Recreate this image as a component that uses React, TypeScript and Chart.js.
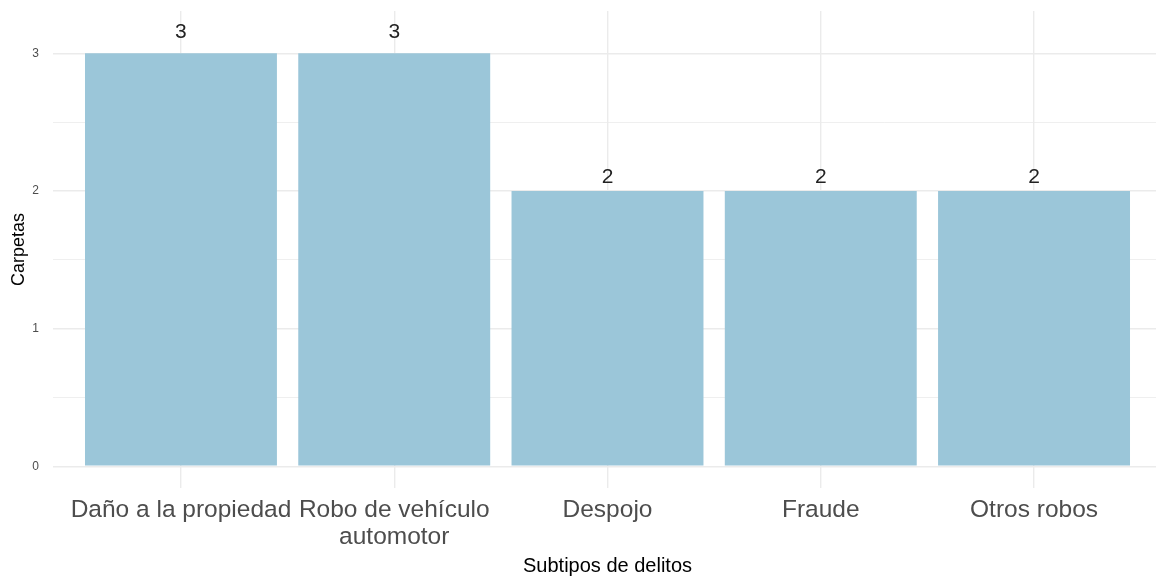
import React, { useEffect, useRef } from "react";
import { Chart, registerables } from "chart.js";

Chart.register(...registerables);

const categories = [
  "Daño a la propiedad",
  "Robo de vehículo\nautomotor",
  "Despojo",
  "Fraude",
  "Otros robos",
];
const carpetas = [3, 3, 2, 2, 2];
const yTickValues = [0, 1, 2, 3];
const yMinorValues = [0.5, 1.5, 2.5];
const xTitle = "Subtipos de delitos";
const yTitle = "Carpetas";

const FONT = "'Liberation Sans', Arial, sans-serif";

const labelPlugin = {
  id: "barLabels",
  afterDatasetsDraw(chart: any) {
    const ctx = chart.ctx;
    const meta = chart.getDatasetMeta(0);
    const yScale = chart.scales.y;
    ctx.save();
    ctx.font = `21px ${FONT}`;
    ctx.fillStyle = "#222222";
    ctx.textAlign = "center";
    ctx.textBaseline = "middle";
    meta.data.forEach((bar: any, i: number) => {
      const v = carpetas[i];
      ctx.fillText(String(v), bar.x, yScale.getPixelForValue(v * 1.05));
    });
    ctx.restore();
  },
};

export default function App() {
  const ref = useRef<HTMLCanvasElement | null>(null);

  useEffect(() => {
    document.body.style.margin = "0";
    const canvas = ref.current!;
    const maxY = Math.max(...carpetas) * 1.05;
    const chart = new Chart(canvas, {
      type: "bar",
      data: {
        datasets: [
          {
            data: carpetas.map((v, i) => ({ x: i + 1, y: v })),
            backgroundColor: "#9BC6D9",
            borderWidth: 0,
            barPercentage: 0.9,
            categoryPercentage: 1,
          },
        ],
      },
      options: {
        responsive: false,
        animation: false,
        maintainAspectRatio: false,
        layout: { padding: { top: 11, left: 0, right: 0, bottom: 0 } },
        plugins: {
          legend: { display: false },
          tooltip: { enabled: false },
        },
        scales: {
          x: {
            type: "linear",
            offset: false,
            min: 0.4,
            max: categories.length + 0.6,
            afterBuildTicks: (scale: any) => {
              scale.ticks = categories.map((_, i) => ({ value: i + 1 }));
            },
            afterFit: (scale: any) => {
              scale.height = 91;
            },
            ticks: {
              autoSkip: false,
              maxRotation: 0,
              minRotation: 0,
              padding: 9,
              color: "#4D4D4D",
              font: { family: FONT, size: 24.5, lineHeight: 1.1 },
              callback: (value: any) => {
                const c = categories[Number(value) - 1];
                return c ? c.split("\n") : "";
              },
            },
            grid: {
              color: "#EBEBEB",
              lineWidth: 1.4,
              drawTicks: false,
              offset: false,
            },
            border: { display: false },
            title: {
              display: true,
              text: xTitle,
              color: "#000000",
              font: { family: FONT, size: 20, lineHeight: 1.2 },
              padding: { top: 0, bottom: 1 },
            },
          },
          y: {
            type: "linear",
            min: -maxY * 0.05,
            max: maxY * 1.05,
            afterBuildTicks: (scale: any) => {
              const all = [...yTickValues, ...yMinorValues].sort((a, b) => a - b);
              scale.ticks = all.map((v) => ({ value: v }));
            },
            afterFit: (scale: any) => {
              scale.width = 53;
              scale.paddingTop = 0;
              scale.paddingBottom = 0;
            },
            ticks: {
              autoSkip: false,
              padding: 14,
              color: "#4D4D4D",
              font: { family: FONT, size: 12 },
              callback: (value: any) =>
                yTickValues.includes(Number(value)) ? String(value) : "",
            },
            grid: {
              color: "#EBEBEB",
              lineWidth: (ctx: any) =>
                yTickValues.includes(ctx.tick?.value) ? 1.4 : 0.8,
              drawTicks: false,
            },
            border: { display: false },
            title: {
              display: true,
              text: yTitle,
              color: "#000000",
              font: { family: FONT, size: 18, lineHeight: 1.2 },
              padding: { top: 8, bottom: 0 },
            },
          },
        },
      },
      plugins: [labelPlugin],
    });
    return () => chart.destroy();
  }, []);

  return (
    <div
      style={{
        position: "fixed",
        left: 0,
        top: 0,
        width: 1156,
        height: 579,
        overflow: "hidden",
        background: "#ffffff",
      }}
    >
      <canvas ref={ref} width={1162} height={579} style={{ display: "block" }} />
    </div>
  );
}
